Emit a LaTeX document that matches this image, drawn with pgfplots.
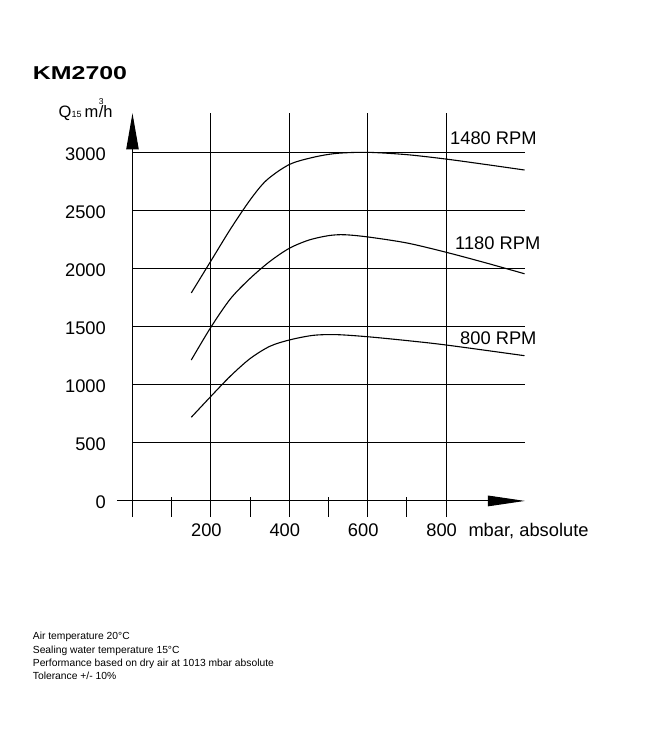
\documentclass[border=0pt]{standalone}
\usepackage{fontspec}
\setmainfont{Liberation Sans}
\usepackage{graphicx}
\usepackage{pgfplots}
\pgfplotsset{compat=1.18}
\usetikzlibrary{arrows.meta}

\begin{document}
\begin{tikzpicture}[x=1pt,y=1pt]
\path[use as bounding box, fill=white] (0,0) rectangle (650,745);
\begin{axis}[
  at={(116.8pt,227.8pt)}, anchor=south west,
  scale only axis, width=407.7pt, height=403.9pt,
  xmin=-40, xmax=1000, ymin=-140, ymax=3336,
  axis line style={draw=none},
  tick style={draw=none},
  xtick={200,400,600,800},
  ytick={0,500,1000,1500,2000,2500,3000},
  xticklabel style={anchor=north, inner sep=0pt, yshift=-6.1pt, xshift=-4.5pt, font=\fontsize{18.3}{20}\selectfont},
  yticklabel style={anchor=east, inner sep=0pt, xshift=-10.8pt, yshift=-1.7pt, font=\fontsize{18.3}{20}\selectfont},
  /pgf/number format/assume math mode=true,
  /pgf/number format/1000 sep={},
  clip=false,
]
\pgfplotsinvokeforeach{500,1000,1500,2000,2500,3000}{
  \draw[line width=1pt] (axis cs:0,#1) -- (axis cs:1000,#1);
}
\pgfplotsinvokeforeach{200,400,600,800}{
  \draw[line width=1pt] (axis cs:#1,-140) -- (axis cs:#1,3336);
}
\pgfplotsinvokeforeach{100,300,500,700}{
  \draw[line width=1pt] (axis cs:#1,33) -- (axis cs:#1,-140);
}
\draw[line width=1pt, -{Triangle[length=36pt,width=12.3pt]}] (axis cs:0,-140) -- (axis cs:0,3336);
\draw[line width=1pt, -{Triangle[length=37pt,width=10.6pt]}] (axis cs:-40,0) -- (axis cs:1001,0);

\addplot[black, line width=1.1pt, smooth] coordinates {
 (150,1790) (200,2065) (250,2340) (300,2590) (342,2760) (400,2895) (461,2957) (521,2991) (600,3000) (700,2980) (800,2942) (900,2896) (1000,2848)
};
\addplot[black, line width=1.1pt, smooth] coordinates {
 (150,1213) (200,1495) (250,1740) (300,1915) (350,2060) (400,2174) (450,2245) (500,2283) (540,2291) (600,2272) (700,2220) (800,2140) (900,2050) (1000,1955)
};
\addplot[black, line width=1.1pt, smooth] coordinates {
 (150,720) (200,900) (250,1075) (300,1225) (350,1330) (400,1385) (461,1425) (521,1431) (600,1413) (700,1380) (800,1342) (1000,1250)
};
\end{axis}

\node[anchor=base west, inner sep=0pt] at (32.7,665.7) {\scalebox{1.34}[1]{\fontsize{18.6}{20}\selectfont\bfseries KM2700}};
\node[anchor=base west, inner sep=0pt] at (58.5,627.5) {\fontsize{16.5}{18}\selectfont Q{\fontsize{9}{10}\selectfont 15}\hspace{3pt}m\hspace{0.5pt}\rlap{\raisebox{12.5pt}{\fontsize{8.5}{9}\selectfont 3}}/h};

\node[anchor=base west, inner sep=0pt, font=\fontsize{18.3}{20}\selectfont] at (450,600) {1480 RPM};
\node[anchor=base west, inner sep=0pt, font=\fontsize{18.3}{20}\selectfont] at (455,495) {1180 RPM};
\node[anchor=base west, inner sep=0pt, font=\fontsize{18.3}{20}\selectfont] at (460,400) {800 RPM};
\node[anchor=base west, inner sep=0pt, font=\fontsize{18.3}{20}\selectfont] at (468.3,208.3) {mbar, absolute};

\node[anchor=base west, inner sep=0pt, font=\fontsize{10.3}{12}\selectfont] at (32.7,105) {Air temperature 20°C};
\node[anchor=base west, inner sep=0pt, font=\fontsize{10.3}{12}\selectfont] at (32.7,91.7) {Sealing water temperature 15°C};
\node[anchor=base west, inner sep=0pt, font=\fontsize{10.3}{12}\selectfont] at (32.7,78.4) {Performance based on dry air at 1013 mbar absolute};
\node[anchor=base west, inner sep=0pt, font=\fontsize{10.3}{12}\selectfont] at (32.7,65) {Tolerance +/- 10\%};
\end{tikzpicture}
\end{document}
